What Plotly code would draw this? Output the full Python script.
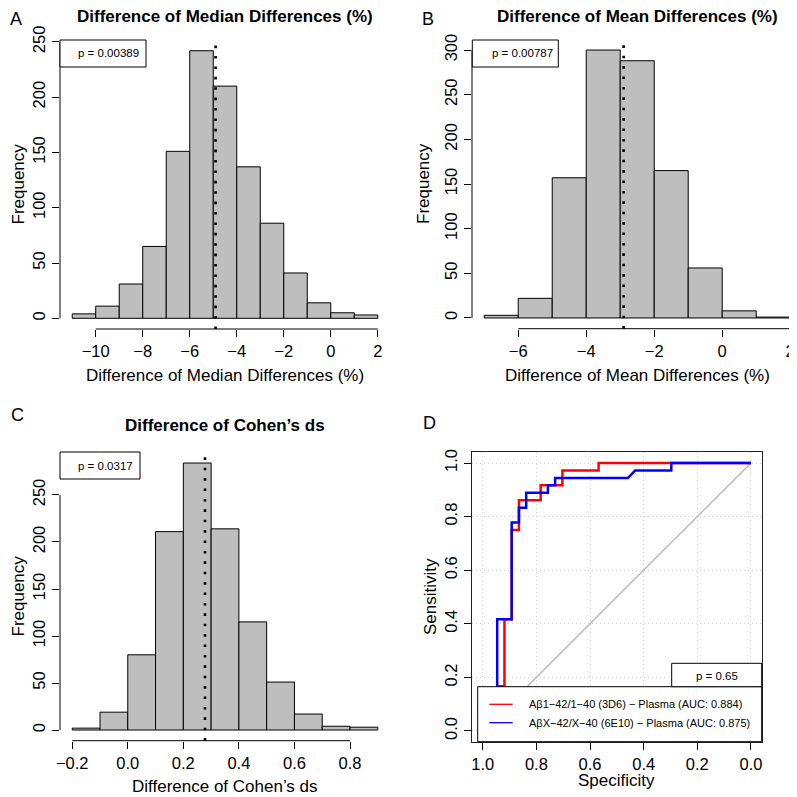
import plotly.graph_objects as go

# The page body adds an 8 px margin, so the figure is 789 px and every
# reference pixel position p is placed at p - 8 inside the figure.
OFF = 8
FW = FH = 797 - OFF
FONT = "Liberation Sans, Arial, Helvetica, sans-serif"

# ---------------- data ----------------
# Panel A: Difference of Median Differences (%)
median_bin_left = [-11, -10, -9, -8, -7, -6, -5, -4, -3, -2, -1, 0, 1]
median_counts = [4, 11, 31, 65, 151, 242, 210, 137, 86, 41, 14, 5, 3]
median_bin_width = 1
median_observed = -4.9
median_p = "p = 0.00389"
median_xticks = [-10, -8, -6, -4, -2, 0, 2]
median_yticks = [0, 50, 100, 150, 200, 250]

# Panel B: Difference of Mean Differences (%)
mean_bin_left = [-7, -6, -5, -4, -3, -2, -1, 0, 1]
mean_counts = [3, 22, 157, 300, 288, 165, 56, 8, 1]
mean_bin_width = 1
mean_observed = -2.9
mean_p = "p = 0.00787"
mean_xticks = [-6, -4, -2, 0, 2]
mean_yticks = [0, 50, 100, 150, 200, 250, 300]

# Panel C: Difference of Cohen's ds
cohen_bin_left = [-0.2, -0.1, 0.0, 0.1, 0.2, 0.3, 0.4, 0.5, 0.6, 0.7, 0.8]
cohen_counts = [2, 19, 80, 211, 284, 214, 115, 51, 17, 4, 3]
cohen_bin_width = 0.1
cohen_observed = 0.278
cohen_p = "p = 0.0317"
cohen_xticks = [-0.2, 0.0, 0.2, 0.4, 0.6, 0.8]
cohen_xticktext = ["\u22120.2", "0.0", "0.2", "0.4", "0.6", "0.8"]
cohen_yticks = [0, 50, 100, 150, 200, 250]

# Panel D: ROC curves
roc_red_name = "A\u03b21\u221242/1\u221240 (3D6) \u2212 Plasma (AUC: 0.884)"
roc_red_spec = [1.0, 1.0, 0.973, 0.973, 0.946, 0.946, 0.919, 0.919, 0.892, 0.892,
                0.865, 0.865, 0.784, 0.784, 0.703, 0.703, 0.568, 0.568, 0.0]
roc_red_sens = [0.0, 0.028, 0.028, 0.083, 0.083, 0.167, 0.167, 0.417, 0.417, 0.750,
                0.750, 0.861, 0.861, 0.917, 0.917, 0.972, 0.972, 1.0, 1.0]
roc_blue_name = "A\u03b2X\u221242/X\u221240 (6E10) \u2212 Plasma (AUC: 0.875)"
roc_blue_spec = [1.0, 0.973, 0.973, 0.946, 0.946, 0.892, 0.892, 0.865, 0.865, 0.838,
                 0.838, 0.757, 0.757, 0.730, 0.730, 0.459, 0.432, 0.297, 0.297, 0.0]
roc_blue_sens = [0.0, 0.0, 0.056, 0.056, 0.417, 0.417, 0.778, 0.778, 0.833, 0.833,
                 0.889, 0.889, 0.917, 0.917, 0.944, 0.944, 0.972, 0.972, 1.0, 1.0]
roc_p = "p = 0.65"
roc_ticks = [0.0, 0.2, 0.4, 0.6, 0.8, 1.0]
roc_ticktext = ["0.0", "0.2", "0.4", "0.6", "0.8", "1.0"]
chance_spec = [1.0, 0.0]
chance_sens = [0.0, 1.0]


# ---------------- helpers ----------------
def fx(p):
    return (p - OFF) / FW


def fy(p):
    return 1 - (p - OFF) / FH


BAR_FILL = "#BEBEBE"
TICKFONT = dict(family=FONT, size=16.5, color="black")
LABSIZE = 17

fig = go.Figure()

hist_panels = [
    ("x", "y", median_bin_left, median_counts, median_bin_width),
    ("x2", "y2", mean_bin_left, mean_counts, mean_bin_width),
    ("x3", "y3", cohen_bin_left, cohen_counts, cohen_bin_width),
]
for xa, ya, left, counts, bw in hist_panels:
    fig.add_trace(go.Bar(
        x=left, y=counts, width=bw, offset=0, xaxis=xa, yaxis=ya,
        marker=dict(color=BAR_FILL, line=dict(color="black", width=1)),
        showlegend=False, hoverinfo="x+y"))

# ROC panel
fig.add_trace(go.Scatter(x=chance_spec, y=chance_sens, mode="lines", xaxis="x4", yaxis="y4",
                         line=dict(color="#B4B4B4", width=1.3), showlegend=False))
fig.add_trace(go.Scatter(x=roc_red_spec, y=roc_red_sens, mode="lines", xaxis="x4", yaxis="y4",
                         name=roc_red_name, line=dict(color="#FF0000", width=2.5), showlegend=False))
fig.add_trace(go.Scatter(x=roc_blue_spec, y=roc_blue_sens, mode="lines", xaxis="x4", yaxis="y4",
                         name=roc_blue_name, line=dict(color="#0000FF", width=2.5), showlegend=False))


def hist_x(domain_px, rng, tickvals, ticktext=None, anchor="y"):
    d = dict(domain=[fx(domain_px[0]), fx(domain_px[1])], range=rng, anchor=anchor,
             tickmode="array", tickvals=tickvals, ticks="outside", ticklen=7,
             tickwidth=1, tickcolor="black", showline=False, showgrid=False,
             zeroline=False, tickfont=TICKFONT, fixedrange=True)
    if ticktext is not None:
        d["ticktext"] = ticktext
    return d


def hist_y(domain_px, rng, tickvals, anchor="x"):
    return dict(domain=[fy(domain_px[1]), fy(domain_px[0])], range=rng, anchor=anchor,
                tickmode="array", tickvals=tickvals, ticks="outside", ticklen=7,
                tickwidth=1, tickcolor="black", showline=False, showgrid=False,
                zeroline=False, tickfont=TICKFONT, tickangle=-90, fixedrange=True)


GRID = dict(showgrid=True, gridcolor="#CFCFCF", griddash="1px,3px", gridwidth=1)

layout = dict(
    width=FW, height=FH, margin=dict(l=0, r=0, t=0, b=0, autoexpand=False),
    paper_bgcolor="white", plot_bgcolor="white",
    font=dict(family=FONT, color="black"),
    xaxis=hist_x((60, 390), [-11.52, 2.52], median_xticks, anchor="y"),
    yaxis=hist_y((40, 329), [-9.68, 251.7], median_yticks, anchor="x"),
    xaxis2=hist_x((472, 797), [-7.36, 2.2], mean_xticks, anchor="y2"),
    yaxis2=hist_y((39.3, 328.7), [-12, 312], mean_yticks, anchor="x2"),
    xaxis3=hist_x((60, 390), [-0.244, 0.944], cohen_xticks, cohen_xticktext, anchor="y3"),
    yaxis3=hist_y((452.3, 740.7), [-11.36, 295.4], cohen_yticks, anchor="x3"),
    xaxis4=dict(domain=[fx(472), fx(761.7)], range=[1.04, -0.04], anchor="y4",
                tickmode="array", tickvals=roc_ticks, ticktext=roc_ticktext,
                ticks="outside", ticklen=7, tickcolor="black", tickfont=TICKFONT,
                showline=True, mirror=True, linecolor="#222222", linewidth=1,
                zeroline=False, fixedrange=True, **GRID),
    yaxis4=dict(domain=[fy(741.7), fy(452.3)], range=[-0.04, 1.04], anchor="x4",
                tickmode="array", tickvals=roc_ticks, ticktext=roc_ticktext,
                ticks="outside", ticklen=7, tickcolor="black", tickfont=TICKFONT,
                tickangle=-90,
                showline=True, mirror=True, linecolor="#222222", linewidth=1,
                zeroline=False, fixedrange=True, **GRID),
)

shapes = []
annotations = []

# R-style axis lines spanning first..last tick
for xa, ya, xt, yt in [("x", "y", median_xticks, median_yticks),
                       ("x2", "y2", mean_xticks, mean_yticks),
                       ("x3", "y3", cohen_xticks, cohen_yticks)]:
    shapes.append(dict(type="line", xref=xa, yref=ya + " domain", x0=xt[0], x1=xt[-1],
                       y0=0, y1=0, line=dict(color="black", width=1)))
    shapes.append(dict(type="line", xref=xa + " domain", yref=ya, x0=0, x1=0,
                       y0=yt[0], y1=yt[-1], line=dict(color="black", width=1)))

# observed-value dotted lines
for xa, ya, v in [("x", "y", median_observed), ("x2", "y2", mean_observed),
                  ("x3", "y3", cohen_observed)]:
    shapes.append(dict(type="line", xref=xa, yref=ya + " domain", x0=v, x1=v, y0=0, y1=1,
                       layer="above", line=dict(color="black", width=2.6, dash="2.6px,7.8px")))


def box(x0, x1, y0, y1):
    shapes.append(dict(type="rect", xref="paper", yref="paper", x0=fx(x0), x1=fx(x1),
                       y0=fy(y1), y1=fy(y0), layer="above", fillcolor="white",
                       line=dict(color="black", width=1)))


def text(x, y, s, size, xanchor="center", bold=False, angle=0):
    annotations.append(dict(xref="paper", yref="paper", x=fx(x), y=fy(y),
                            text=("<b>%s</b>" % s) if bold else s,
                            showarrow=False, xanchor=xanchor, yanchor="middle", textangle=angle,
                            font=dict(family=FONT, size=size, color="black")))


# p-value boxes
box(60, 146, 40, 67)
text(141, 53.5, median_p, 11.5, xanchor="right")
box(472.3, 558.3, 40, 67)
text(555, 53.5, mean_p, 11.5, xanchor="right")
box(60, 140, 452, 479)
text(135, 466, cohen_p, 11.5, xanchor="right")

# ROC legend + p box
box(477.7, 761.7, 686.7, 741.7)
box(671.7, 761.7, 663.3, 686.7)
text(716.5, 675.5, roc_p, 11.5)
for yy, col, nm in [(704.3, "#FF0000", roc_red_name), (722.7, "#0000FF", roc_blue_name)]:
    shapes.append(dict(type="line", xref="paper", yref="paper", x0=fx(489.3), x1=fx(512.7),
                       y0=fy(yy), y1=fy(yy), layer="above", line=dict(color=col, width=1.3)))
    text(526.7, yy, nm, 11, xanchor="left")

# titles
text(225, 17, "Difference of Median Differences (%)", LABSIZE, bold=True)
text(637, 17, "Difference of Mean Differences (%)", LABSIZE, bold=True)
text(225, 425, "Difference of Cohen\u2019s ds", LABSIZE, bold=True)

# axis titles
text(225, 375, "Difference of Median Differences (%)", LABSIZE)
text(637, 375, "Difference of Mean Differences (%)", LABSIZE)
text(225, 786, "Difference of Cohen\u2019s ds", LABSIZE)
text(616.5, 780, "Specificity", LABSIZE)
text(18, 184.5, "Frequency", LABSIZE, angle=-90)
text(423, 184, "Frequency", LABSIZE, angle=-90)
text(18, 596.5, "Frequency", LABSIZE, angle=-90)
text(430, 597, "Sensitivity", LABSIZE, angle=-90)

# panel letters
text(16, 19, "A", 18)
text(428.3, 19, "B", 18)
text(17.5, 415, "C", 18)
text(429, 423, "D", 18)

layout["shapes"] = shapes
layout["annotations"] = annotations
fig.update_layout(**layout)
fig.write_html("out.html")
